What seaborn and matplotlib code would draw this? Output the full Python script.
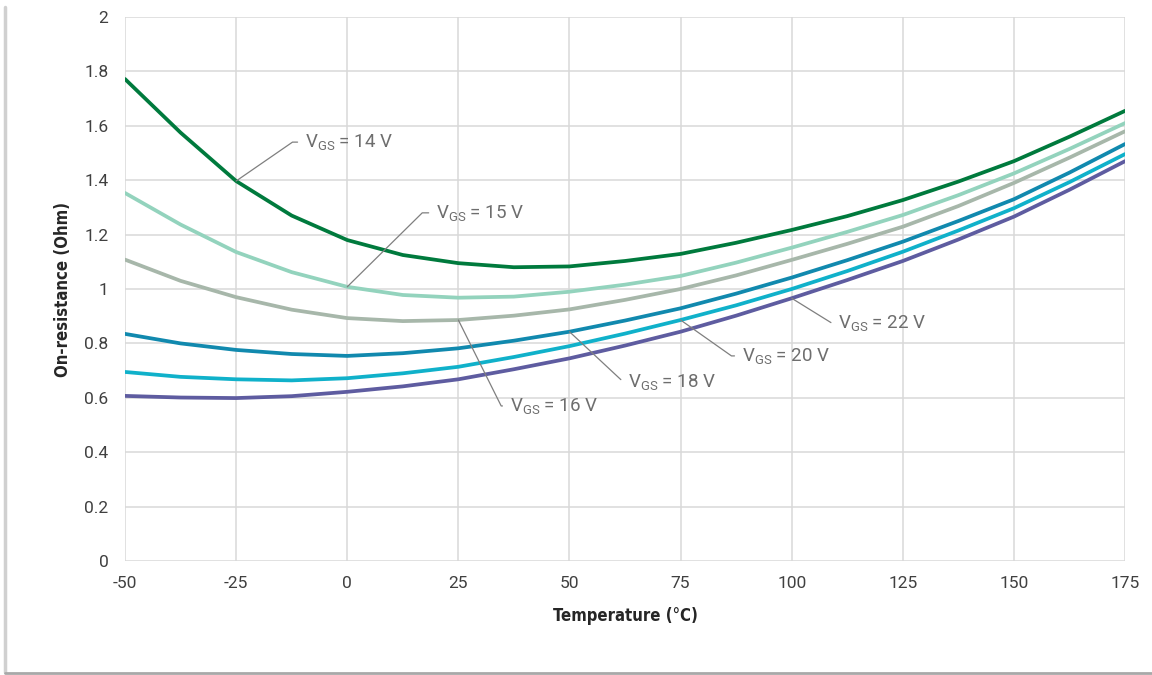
import numpy as np
import pandas as pd
import matplotlib
matplotlib.use('Agg')
import matplotlib.pyplot as plt
from matplotlib.lines import Line2D
import seaborn as sns

# temperature points (deg C)
temps = [-50, -37.5, -25, -12.5, 0, 12.5, 25, 37.5, 50, 62.5, 75, 87.5,
         100, 112.5, 125, 137.5, 150, 162.5, 175]

# on-resistance (Ohm) for each gate voltage
r_14v = [1.772, 1.575, 1.397, 1.27, 1.18, 1.125, 1.095, 1.08, 1.083, 1.103, 1.129, 1.17,
         1.217, 1.268, 1.327, 1.395, 1.47, 1.56, 1.655]
r_15v = [1.353, 1.237, 1.136, 1.062, 1.008, 0.978, 0.968, 0.972, 0.99, 1.016, 1.048, 1.097,
         1.152, 1.21, 1.272, 1.345, 1.425, 1.515, 1.61]
r_16v = [1.108, 1.03, 0.97, 0.924, 0.893, 0.882, 0.886, 0.902, 0.925, 0.96, 1.0, 1.05,
         1.107, 1.166, 1.229, 1.305, 1.39, 1.483, 1.58]
r_18v = [0.835, 0.80, 0.776, 0.761, 0.754, 0.764, 0.782, 0.81, 0.843, 0.884, 0.929, 0.983,
         1.042, 1.106, 1.174, 1.25, 1.33, 1.428, 1.533]
r_20v = [0.695, 0.677, 0.668, 0.664, 0.672, 0.69, 0.714, 0.75, 0.79, 0.836, 0.886, 0.94,
         1.0, 1.066, 1.137, 1.215, 1.297, 1.393, 1.496]
r_22v = [0.607, 0.601, 0.599, 0.606, 0.622, 0.642, 0.668, 0.705, 0.745, 0.792, 0.843, 0.902,
         0.966, 1.033, 1.103, 1.182, 1.266, 1.365, 1.47]

series_names = ['14 V', '15 V', '16 V', '18 V', '20 V', '22 V']
series_values = [r_14v, r_15v, r_16v, r_18v, r_20v, r_22v]
colors = ['#007A3D', '#93D3BD', '#A7B7AA', '#1189AE', '#10B1CA', '#5E5CA0']

# label anchor on the curve (temp, series), label text position, leader angle
label_temps = [-25, 0, 25, 50, 75, 100]
label_text_pos = [(-9.5, 1.54), (20.0, 1.28), (36.6, 0.57), (63.1, 0.659), (88.8, 0.754), (110.5, 0.875)]
leader_angles = [34.6, 44.6, -63.5, -43.0, -35.2, -31.8]

# build long-form table
rows = []
for name, vals in zip(series_names, series_values):
    for t, v in zip(temps, vals):
        rows.append({'temp': t, 'r': v, 'vgs': name})
df = pd.DataFrame(rows)

sns.set_style('white')
plt.rcParams['font.family'] = ['Roboto', 'DejaVu Sans']
plt.rcParams['mathtext.fontset'] = 'custom'
plt.rcParams['mathtext.rm'] = 'Roboto'
plt.rcParams['mathtext.it'] = 'Roboto'
plt.rcParams['axes.unicode_minus'] = False

fig = plt.figure(figsize=(11.52, 6.75), dpi=100)
ax = fig.add_axes([0.1085, 0.1689, 0.8681, 0.8059])

sns.lineplot(data=df, x='temp', y='r', hue='vgs', palette=dict(zip(series_names, colors)),
             linewidth=2.7, legend=False, ax=ax, sort=False)
for ln in ax.lines:
    ln.set_solid_joinstyle('round')

ax.set_xlim(-50, 175)
ax.set_ylim(0, 2)
ax.set_xticks(np.arange(-50, 176, 25))
ax.set_yticks(np.arange(0, 2.01, 0.2))
ax.set_yticklabels(['0', '0.2', '0.4', '0.6', '0.8', '1', '1.2', '1.4', '1.6', '1.8', '2'])
ax.grid(True, color='#D9D9D9', linewidth=1.1)
ax.set_axisbelow(True)
for s in ax.spines.values():
    s.set_visible(False)
ax.tick_params(axis='both', length=0, labelsize=12.5, labelcolor='#404040')
ax.tick_params(axis='y', pad=12)
ax.tick_params(axis='x', pad=11)

label_font = ['Liberation Sans Narrow', 'DejaVu Sans']
ax.set_xlabel('Temperature (°C)', fontsize=12, fontweight='bold', fontstretch='condensed',
              family=label_font, labelpad=11)
ax.set_ylabel('On-resistance (Ohm)', fontsize=12, fontweight='bold', fontstretch='condensed',
              family=label_font, labelpad=9)

# leader-line labels
for name, vals, lt, pos, ang in zip(series_names, series_values, label_temps, label_text_pos, leader_angles):
    yv = vals[temps.index(lt)]
    ax.annotate('V$_{\\mathrm{GS}}$ = ' + name, xy=(lt, yv), xytext=pos,
                fontsize=13.5, color='#6E6E6E', va='center', ha='left',
                arrowprops=dict(arrowstyle='-', color='#7F7F7F', lw=0.9,
                                shrinkA=3, shrinkB=0, relpos=(0, 0.5),
                                connectionstyle='angle,angleA=0,angleB=%s,rad=0' % ang))

# frame shadow on left and bottom
fig.add_artist(Line2D([0.004, 0.004], [0.004, 0.99], transform=fig.transFigure, color='#D0D0D0', lw=2.5))
fig.add_artist(Line2D([0.004, 1.0], [0.003, 0.003], transform=fig.transFigure, color='#A8A8A8', lw=2))

fig.savefig('out.png', dpi=100, facecolor='white')
